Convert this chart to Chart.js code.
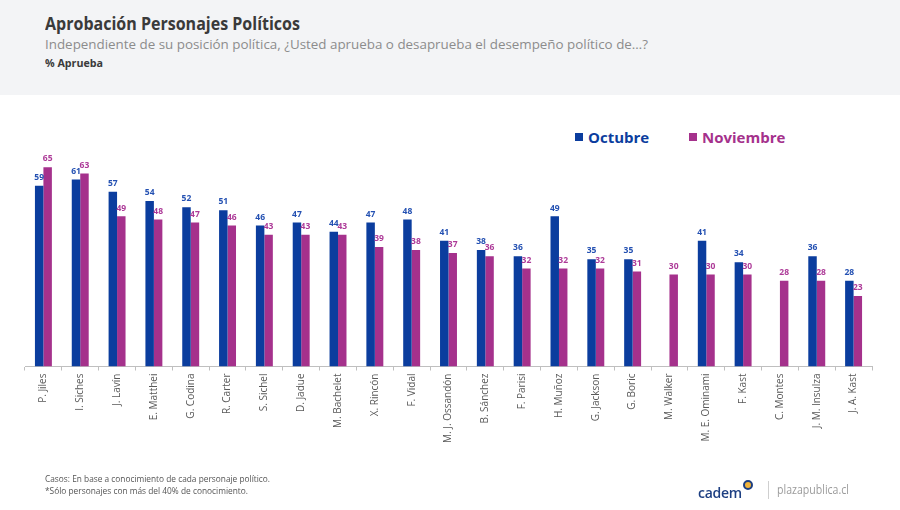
<!DOCTYPE html>
<html>
<head>
<meta charset="utf-8">
<script src="https://cdn.jsdelivr.net/npm/chart.js@4.4.1/dist/chart.umd.min.js"></script>
<style>
  body { margin: 0; width: 900px; height: 510px; overflow: hidden; background: #fff; font-family: "Open Sans", sans-serif; position: relative; }
  .band { position: absolute; left: 0; top: 0; width: 900px; height: 95px; background: #f3f4f6; }
  .txt { position: absolute; white-space: nowrap; transform-origin: left top; }
  #title { left: 45px; top: 12px; font-size: 17px; font-weight: 700; color: #3a3a3a; }
  #subtitle { left: 45px; top: 35px; font-size: 13.5px; color: #8c8c8c; }
  #unit { left: 45px; top: 55px; font-size: 11px; font-weight: 700; color: #3a3a3a; }
  .leg { position: absolute; top: 127px; font-size: 15px; font-weight: 700; white-space: nowrap; }
  .leg i { display: inline-block; width: 8px; height: 8px; margin-right: 5px; vertical-align: 2px; }
  #foot1 { left: 45px; top: 473px; font-size: 8.5px; color: #555; }
  #foot2 { left: 45px; top: 485px; font-size: 8.5px; color: #555; }
  #cadem { left: 698px; top: 480px; font-size: 14px; font-weight: 600; color: #1d3f82; letter-spacing: -0.3px; }
  #cadem span { display: inline-block; width: 6px; height: 6px; border: 2px solid #1d3f82; border-radius: 50%; margin-left: 1px; vertical-align: 8px; background: #f1b43c; }
  #sep { position: absolute; left: 768px; top: 481px; width: 1px; height: 18px; background: #cfcfcf; }
  #plaza { left: 777px; top: 481px; font-size: 12px; color: #9b9b9b; }
  canvas { position: absolute; left: 0; top: 0; }
</style>
</head>
<body>
<div class="band"></div>
<div id="title" class="txt" data-w="255">Aprobación Personajes Políticos</div>
<div id="subtitle" class="txt" data-w="603">Independiente de su posición política, ¿Usted aprueba o desaprueba el desempeño político de…?</div>
<div id="unit" class="txt" data-w="58">% Aprueba</div>

<div class="leg" style="left:575px;color:#0b3d9e"><i style="background:#0b3d9e"></i>Octubre</div>
<div class="leg" style="left:689px;color:#a5318c"><i style="background:#a5318c"></i>Noviembre</div>

<canvas id="chart" width="900" height="510"></canvas>

<div id="foot1" class="txt" data-w="225">Casos: En base a conocimiento de cada personaje político.</div>
<div id="foot2" class="txt" data-w="203">*Sólo personajes con más del 40% de conocimiento.</div>
<div id="cadem" class="txt">cadem<span></span></div>
<div id="sep"></div>
<div id="plaza" class="txt" data-w="72">plazapublica.cl</div>

<script>
const personajes = ['P. Jiles', 'I. Siches', 'J. Lavín', 'E. Matthei', 'G. Codina', 'R. Carter', 'S. Sichel', 'D. Jadue', 'M. Bachelet', 'X. Rincón', 'F. Vidal', 'M. J. Ossandón', 'B. Sánchez', 'F. Parisi', 'H. Muñoz', 'G. Jackson', 'G. Boric', 'M. Walker', 'M. E. Ominami', 'F. Kast', 'C. Montes', 'J. M. Insulza', 'J. A. Kast'];
const octubre = [59, 61, 57, 54, 52, 51, 46, 47, 44, 47, 48, 41, 38, 36, 49, 35, 35, null, 41, 34, null, 36, 28];
const noviembre = [65, 63, 49, 48, 47, 46, 43, 43, 43, 39, 38, 37, 36, 32, 32, 32, 31, 30, 30, 30, 28, 28, 23];

// stretch header/footer text to the widths measured on the picture
document.querySelectorAll('.txt[data-w]').forEach(el => {
    const w = el.getBoundingClientRect().width;
    el.style.transform = 'scaleX(' + (parseFloat(el.dataset.w) / w) + ')';
});

const labelColors = ['#2350b2', '#ad3a98'];
const valueLabels = {
    id: 'valueLabels',
    afterDatasetsDraw(chart) {
        const ctx = chart.ctx;
        ctx.save();
        ctx.font = 'bold 8.5px "Open Sans"';
        ctx.textAlign = 'center';
        ctx.textBaseline = 'bottom';
        chart.data.datasets.forEach((ds, i) => {
            const meta = chart.getDatasetMeta(i);
            meta.data.forEach((bar, j) => {
                const v = ds.data[j];
                if (v === null) return;
                ctx.fillStyle = labelColors[i];
                ctx.fillText(v, bar.x, bar.y - 4);
            });
        });
        ctx.restore();
    }
};

const chart = new Chart(document.getElementById('chart'), {
    type: 'bar',
    data: {
        labels: personajes,
        datasets: [
            { label: 'Octubre', data: octubre, backgroundColor: '#0b3d9e' },
            { label: 'Noviembre', data: noviembre, backgroundColor: '#a5318c' }
        ]
    },
    options: {
        responsive: false,
        animation: false,
        devicePixelRatio: 1,
        categoryPercentage: 0.46,
        barPercentage: 1,
        layout: { padding: { left: 25, right: 28, top: 152, bottom: 33.5 } },
        plugins: { legend: { display: false }, tooltip: { enabled: false } },
        scales: {
            y: { display: false, min: 0, max: 70 },
            x: {
                afterFit: (scale) => { scale.height = 110; },
                border: { display: true, color: '#bfbfbf' },
                grid: { drawOnChartArea: false, tickLength: 4, color: '#bfbfbf', offset: true },
                ticks: {
                    minRotation: 90, maxRotation: 90, padding: 3,
                    color: '#595959',
                    font: { family: 'Open Sans', size: 10 }
                }
            }
        }
    },
    plugins: [valueLabels]
});
</script>
</body>
</html>
